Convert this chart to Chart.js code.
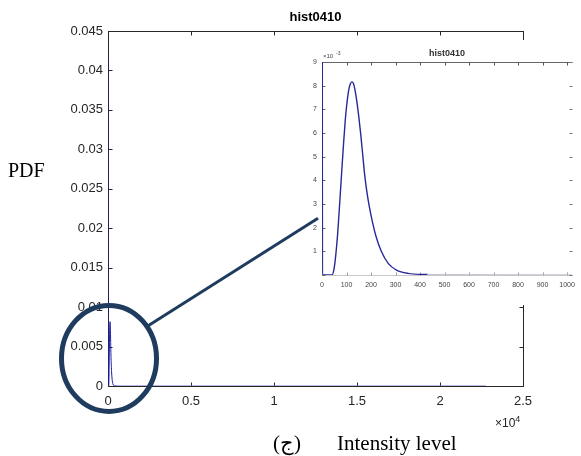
<!DOCTYPE html>
<html><head><meta charset="utf-8">
<script src="https://cdn.jsdelivr.net/npm/chart.js@4/dist/chart.umd.min.js"></script>
<style>
html,body{margin:0;padding:0;background:#fff;}
#wrap{position:relative;width:581px;height:456px;overflow:hidden;background:#fff;}
#main{position:absolute;left:0;top:0;}
#insetBox{position:absolute;left:300px;top:40px;width:281px;height:265px;background:#fff;}
#inset{position:absolute;left:0;top:0;}
#overlay{position:absolute;left:0;top:0;pointer-events:none;}
.lbl{position:absolute;white-space:nowrap;color:#000;line-height:1;}
.serif{font-family:"Times New Roman","Liberation Serif",serif;}
.sans{font-family:Arial,"Liberation Sans",sans-serif;}
</style></head>
<body>
<div id="wrap">
  <canvas id="main" width="581" height="456"></canvas>
  <div id="insetBox"><canvas id="inset" width="281" height="265"></canvas></div>
  <canvas id="overlay" width="581" height="456"></canvas>
  <div class="lbl serif" style="left:8px;top:160px;font-size:20px;">PDF</div>
  <div class="lbl serif" style="left:273px;top:433px;font-size:21px;">(ج)</div>
  <div class="lbl serif" style="left:337px;top:433px;font-size:21px;">Intensity level</div>
  <div class="lbl sans" style="left:495px;top:417px;font-size:12px;color:#262626;">×10<span style="font-size:9px;position:relative;top:-5px;">4</span></div>
</div>
<script>
// ---- data ----
const chartTitle = 'hist0410';
const intensity = [0, 2, 41, 48, 54, 64, 73, 80, 88, 95, 100, 108, 115, 122, 128, 134, 142, 150, 158, 166, 174, 182, 192, 204, 220, 242, 271, 304, 351, 431, 485, 1000, 22760];
const pdf = [0.0417, 0, 0, 0.0002, 0.00063, 0.00176, 0.00316, 0.0043, 0.00555, 0.00655, 0.0071, 0.00775, 0.00806, 0.00816, 0.0081, 0.00785, 0.00735, 0.0067, 0.00595, 0.0051, 0.00425, 0.0036, 0.00295, 0.00233, 0.00165, 0.001, 0.00048, 0.00021, 0.00007, 0.00002, 0.00001, 0.000003, 0];

const mainXTicks = [0, 5000, 10000, 15000, 20000, 25000];
const mainXTickLabels = ['0', '0.5', '1', '1.5', '2', '2.5'];
const mainYTicks = [0, 0.005, 0.01, 0.015, 0.02, 0.025, 0.03, 0.035, 0.04, 0.045];
const mainYTickLabels = ['0', '0.005', '0.01', '0.015', '0.02', '0.025', '0.03', '0.035', '0.04', '0.045'];

const insetXTicks = [0, 100, 200, 300, 400, 500, 600, 700, 800, 900, 1000];
const insetXTickLabels = ['0', '100', '200', '300', '400', '500', '600', '700', '800', '900', '1000'];
const insetYTicks = [0, 0.001, 0.002, 0.003, 0.004, 0.005, 0.006, 0.007, 0.008, 0.009];
const insetYTickLabels = ['', '1', '2', '3', '4', '5', '6', '7', '8', '9'];

const F = 'Arial, "Liberation Sans", sans-serif';

// ---- box with inward ticks ----
const boxTicks = {
  id: 'boxTicks',
  beforeDatasetsDraw(chart, args, o) {
    const {ctx, chartArea: a, scales: {x, y}} = chart;
    const L = Math.round(a.left) + 0.5, R = Math.round(a.right) + 0.5;
    const T = Math.round(a.top) + 0.5, B = Math.round(a.bottom) + 0.5;
    ctx.save();
    ctx.lineWidth = 1;
    const line = (x1, y1, x2, y2, c) => { ctx.strokeStyle = c; ctx.beginPath(); ctx.moveTo(x1, y1); ctx.lineTo(x2, y2); ctx.stroke(); };
    if (o.top) line(L, T, R, T, o.top);
    if (o.bottom) line(L, B, R, B, o.bottom);
    if (o.left) line(L, T, L, B, o.left);
    if (o.right) line(R, T, R, B, o.right);
    const len = o.len;
    x.ticks.forEach(t => {
      const px = Math.round(x.getPixelForValue(t.value)) + 0.5;
      if (o.bottomTick) line(px, B, px, B - len, o.bottomTick);
      if (o.topTick) line(px, T, px, T + len, o.topTick);
    });
    y.ticks.forEach(t => {
      const py = Math.round(y.getPixelForValue(t.value)) + 0.5;
      if (o.leftTick) line(L, py, L + len, py, o.leftTick);
      if (o.rightTick) line(R, py, R - len, py, o.rightTick);
    });
    if (o.exp) {
      ctx.fillStyle = '#444';
      ctx.font = '6px ' + F;
      ctx.textBaseline = 'alphabetic';
      ctx.fillText('\u00d710', a.left + 1, a.top - 4);
      ctx.font = '5px ' + F;
      ctx.fillText('-3', a.left + 14, a.top - 7);
    }
    ctx.restore();
  }
};

const pts = intensity.map((v, i) => ({x: v, y: pdf[i]}));

const mainChart = new Chart(document.getElementById('main'), {
  type: 'line',
  data: {datasets: [{data: pts, borderColor: '#1c1ca8', borderWidth: 1, pointRadius: 0, cubicInterpolationMode: 'monotone', fill: false,
    segment: {borderColor: c => c.p0.parsed.x >= 485 ? '#7a7ad0' : undefined}}]},
  options: {
    responsive: false, animation: false, devicePixelRatio: 1,
    layout: {padding: {left: 0, right: 58, top: 0, bottom: 0}},
    plugins: {
      legend: {display: false}, tooltip: {enabled: false},
      title: {display: true, text: chartTitle, fullSize: false, color: '#000',
        font: {family: F, size: 13, weight: 'bold'}, padding: {top: 10, bottom: 5.4}},
      boxTicks: {len: 4, top: '#262626', bottom: '#262626', left: '#262626', right: '#262626',
        topTick: '#262626', bottomTick: '#262626', leftTick: '#262626', rightTick: '#262626'}
    },
    scales: {
      x: {type: 'linear', min: 0, max: 25000, grid: {display: false, drawTicks: false}, border: {display: false},
        afterBuildTicks: s => { s.ticks = mainXTicks.map(v => ({value: v})); },
        afterFit: s => { s.height = 70; },
        ticks: {callback: (v, i) => mainXTickLabels[i], font: {family: F, size: 13}, color: '#262626', padding: 8, maxRotation: 0, autoSkip: false}},
      y: {type: 'linear', min: 0, max: 0.045, grid: {display: false, drawTicks: false}, border: {display: false},
        afterBuildTicks: s => { s.ticks = mainYTicks.map(v => ({value: v})); },
        afterFit: s => { s.width = 108; },
        ticks: {callback: (v, i) => mainYTickLabels[i], font: {family: F, size: 13}, color: '#262626', padding: 5, autoSkip: false}}
    }
  },
  plugins: [boxTicks]
});

const insetChart = new Chart(document.getElementById('inset'), {
  type: 'line',
  data: {datasets: [{data: pts, borderColor: '#28289a', borderWidth: 1.4, pointRadius: 0, cubicInterpolationMode: 'monotone', fill: false,
    segment: {borderColor: c => c.p0.parsed.x >= 431 ? '#c4c4d4' : undefined}}]},
  options: {
    responsive: false, animation: false, devicePixelRatio: 1,
    layout: {padding: {left: 0, right: 4, top: 0, bottom: 0}},
    plugins: {
      legend: {display: false}, tooltip: {enabled: false},
      title: {display: true, text: chartTitle, fullSize: false, color: '#333',
        font: {family: F, size: 9, weight: 'bold'}, padding: {top: 8, bottom: 3.2}},
      boxTicks: {len: 3, exp: true, top: '#666', bottom: '#c8c8c8', left: '#666', right: null,
        topTick: '#555', bottomTick: '#999', leftTick: '#666', rightTick: '#777'}
    },
    scales: {
      x: {type: 'linear', min: 0, max: 1020, grid: {display: false, drawTicks: false}, border: {display: false},
        afterBuildTicks: s => { s.ticks = insetXTicks.map(v => ({value: v})); },
        afterFit: s => { s.height = 30; },
        ticks: {callback: (v, i) => insetXTickLabels[i], font: {family: F, size: 7}, color: '#444', padding: 6, maxRotation: 0, autoSkip: false}},
      y: {type: 'linear', min: 0, max: 0.009, grid: {display: false, drawTicks: false}, border: {display: false},
        afterBuildTicks: s => { s.ticks = insetYTicks.map(v => ({value: v})); },
        afterFit: s => { s.width = 22; },
        ticks: {callback: (v, i) => insetYTickLabels[i], font: {family: F, size: 7}, color: '#444', padding: 5, autoSkip: false}}
    }
  },
  plugins: [boxTicks]
});

// ---- zoom annotation: circle around the peak and connector to the inset ----
(function drawOverlay() {
  const c = document.getElementById('overlay').getContext('2d');
  const cx = mainChart.scales.x.getPixelForValue(0) + 1;
  const cy = mainChart.scales.y.getPixelForValue(0.0035);
  const rx = 47.5, ry = 53;
  c.strokeStyle = '#1f3b5e';
  c.lineWidth = 5;
  c.beginPath(); c.ellipse(cx, cy, rx, ry, 0, 0, Math.PI * 2); c.stroke();
  const th = 37 * Math.PI / 180;
  const sx = cx + rx * Math.cos(th), sy = cy - ry * Math.sin(th);
  const ex = 300 + insetChart.scales.x.getPixelForValue(0) - 4;
  const ey = 40 + insetChart.scales.y.getPixelForValue(0.0024);
  c.lineWidth = 3;
  c.beginPath(); c.moveTo(sx, sy); c.lineTo(ex, ey); c.stroke();
})();
</script>
</body></html>
